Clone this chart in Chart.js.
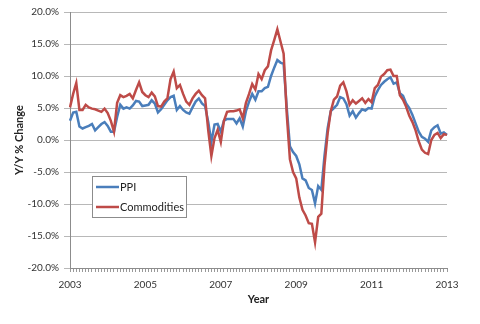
<!DOCTYPE html>
<html><head><meta charset="utf-8">
<script src="https://cdn.jsdelivr.net/npm/chart.js@4"></script>
<style>html,body{margin:0;padding:0;background:#fff;}#wrap{position:relative;width:480px;height:324px;}</style>
</head><body><div id="wrap"><canvas id="c" width="480" height="324"></canvas></div>
<script>
const startYear = 2003;
const seriesNames = ['PPI', 'Commodities'];
const xLabelYears = [2003, 2005, 2007, 2009, 2011, 2013];
const yAxisTitle = 'Y/Y % Change';
const xAxisTitle = 'Year';

// monthly Y/Y % change, Jan 2003 .. Jan 2013
const ppi = [
  3.0, 4.3, 4.4, 2.1, 1.8, 2.0, 2.2, 2.5, 1.5, 2.0, 2.5, 2.8,
  2.2, 1.3, 1.3, 3.6, 5.5, 4.9, 5.1, 4.9, 5.4, 6.1, 6.0, 5.3,
  5.4, 5.5, 6.2, 5.7, 4.3, 4.8, 5.5, 6.2, 6.7, 6.9, 4.7, 5.3,
  4.7, 4.3, 4.1, 5.1, 6.0, 6.5, 5.7, 5.3, 2.8, -0.3, 2.4, 2.5,
  1.3, 3.0, 3.3, 3.3, 3.3, 2.6, 3.4, 2.1, 4.5, 6.0, 7.2, 6.3,
  7.6, 7.6, 8.1, 8.3, 10.0, 11.3, 12.5, 12.1, 11.9, 5.0, -1.0, -1.9,
  -2.5, -3.8, -6.0, -6.3, -7.5, -7.8, -9.9, -7.2, -7.8, -2.5, 1.8, 4.5,
  5.0, 5.5, 6.7, 6.5, 5.6, 3.8, 4.5, 3.5, 4.2, 4.8, 4.6, 5.0,
  4.9, 6.8, 7.8, 8.6, 9.1, 9.5, 9.8, 8.8, 9.0, 7.3, 6.9, 5.7,
  5.0, 3.9, 2.6, 1.3, 0.5, 0.2, -0.3, 1.5, 2.0, 2.3, 1.0, 1.2,
  0.8
];
const commodities = [
  5.1, 7.2, 8.9, 4.7, 4.7, 5.5, 5.1, 4.9, 4.8, 4.6, 4.4, 4.9,
  4.2, 3.0, 1.3, 5.8, 7.0, 6.7, 6.9, 7.2, 6.5, 7.8, 9.0, 7.5,
  7.0, 6.7, 7.4, 6.8, 5.3, 5.2, 6.0, 6.5, 9.5, 10.7, 8.1, 8.6,
  7.2, 6.0, 5.5, 6.5, 7.2, 7.7, 7.0, 6.5, 1.5, -2.5, 0.3, 1.6,
  -0.3, 3.0, 4.4, 4.5, 4.5, 4.6, 4.8, 3.4, 5.8, 7.2, 8.75, 7.9,
  10.3, 9.5, 10.9, 11.5, 14.0, 15.6, 17.3, 15.4, 13.5, 4.0, -3.0, -5.0,
  -6.0, -9.0, -10.9, -11.8, -13.0, -13.1, -16.0, -12.0, -11.5, -4.0, 1.0, 4.5,
  6.3, 6.8, 8.5, 9.0, 7.6, 5.5, 6.2, 5.7, 6.1, 6.5, 5.8, 6.4,
  5.9, 8.1, 8.6, 9.9, 10.3, 10.9, 11.0, 10.0, 10.0, 7.0, 6.3, 5.2,
  3.8, 2.8, 1.5, -0.2, -1.5, -2.0, -2.2, 0.0, 0.8, 1.1, 0.3, 0.9,
  0.8
];

const months = [];
for (let i = 0; i < ppi.length; i++) {
  const yr = startYear + Math.floor(i / 12);
  const mo = (i % 12) + 1;
  months.push(yr + '-' + String(mo).padStart(2, '0'));
}

Chart.defaults.font.family = 'Lato, "DejaVu Sans", sans-serif';
Chart.defaults.font.size = 10;
Chart.defaults.color = '#333';

const boxLegend = {
  id: 'boxLegend',
  afterDatasetsDraw(chart) {
    const ctx = chart.ctx, a = chart.chartArea;
    const x = a.left + 22, y = a.top + 164, w = 94, h = 41;
    ctx.save();
    ctx.fillStyle = '#fff';
    ctx.fillRect(x, y, w, h);
    ctx.strokeStyle = '#8c8c8c';
    ctx.lineWidth = 1;
    ctx.strokeRect(x + 0.5, y + 0.5, w, h);
    const items = [chart.data.datasets[0], chart.data.datasets[1]];
    items.forEach((ds, i) => {
      const cy = y + 11 + i * 20;
      ctx.strokeStyle = ds.borderColor;
      ctx.lineWidth = 2.5;
      ctx.beginPath();
      ctx.moveTo(x + 4, cy);
      ctx.lineTo(x + 27, cy);
      ctx.stroke();
      ctx.fillStyle = '#222';
      ctx.font = '11px Lato, sans-serif';
      ctx.textBaseline = 'middle';
      ctx.textAlign = 'left';
      ctx.fillText(ds.label, x + 28, cy + 0.5);
    });
    ctx.restore();
  }
};

new Chart(document.getElementById('c'), {
  type: 'line',
  data: {
    labels: months,
    datasets: [
      { label: seriesNames[0], data: ppi, borderColor: '#4a7ebb', borderWidth: 2.5, pointRadius: 0, tension: 0, fill: false, order: 2 },
      { label: seriesNames[1], data: commodities, borderColor: '#be4b48', borderWidth: 2.5, pointRadius: 0, tension: 0, fill: false, order: 1 }
    ]
  },
  options: {
    responsive: false,
    animation: false,
    devicePixelRatio: 1,
    layout: { padding: { top: 12, right: 33, left: 0, bottom: 0 } },
    plugins: { legend: { display: false }, tooltip: { enabled: false } },
    scales: {
      x: {
        type: 'category',
        offset: false,
        grid: { display: true, drawOnChartArea: false, drawTicks: true, tickLength: 4, color: '#999' },
        border: { display: true, color: '#8c8c8c' },
        ticks: {
          autoSkip: false, maxRotation: 0, minRotation: 0, padding: 7, color: '#333',
          callback: function (v, i) {
            const lab = months[i];
            const yr = +lab.slice(0, 4);
            if (lab.endsWith('-01') && xLabelYears.includes(yr)) return String(yr);
            return '';
          }
        },
        title: { display: true, text: xAxisTitle, font: { weight: 'bold', size: 11 }, color: '#222', padding: { top: 0, bottom: 18 } },
        afterFit(s) { s.height = 56; }
      },
      y: {
        min: -20, max: 20,
        ticks: { stepSize: 5, padding: 5, color: '#333', callback: v => v.toFixed(1) + '%' },
        grid: { color: '#b8b8b8', tickLength: 6 },
        border: { display: true, color: '#8c8c8c' },
        title: { display: true, text: yAxisTitle, font: { weight: 'bold', size: 11 }, color: '#222', padding: { top: 13, bottom: 0 } },
        afterFit(s) { s.width = 70; }
      }
    }
  },
  plugins: [boxLegend]
});
</script>
</body></html>
